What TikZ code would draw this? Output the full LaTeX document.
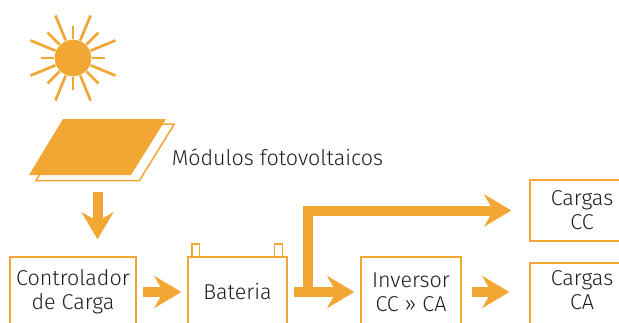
\documentclass[tikz,border=0pt]{standalone}
\usepackage{fontspec}
\setmainfont{Fira Sans Light}
\usetikzlibrary{arrows.meta,calc}
\definecolor{solaire}{HTML}{F2A633}
\definecolor{texte}{HTML}{1E1E1E}

\begin{document}
\begin{tikzpicture}[x=1pt, y=-1pt, line width=1.5pt,
  box/.style={draw=solaire, line width=1.5pt, text=texte, align=center,
    inner sep=0pt, font=\fontsize{21.5}{24}\selectfont},
  txt/.style={text=texte, align=center, inner sep=0pt,
    font=\fontsize{21.5}{24}\selectfont},
  bigarrow/.style={draw=solaire, line width=10pt,
    -{Stealth[length=27pt, width=32pt, inset=9pt]}},
  ray/.style={draw=solaire, line width=2.7pt}]
\useasboundingbox (0,0) rectangle (619,322);
\clip (0,0) rectangle (619,322);
% sun
\coordinate (S) at (73,58) ;
\fill[solaire] (S) circle (18.3) ;
\foreach \a in {0,90,180,270} \draw[ray] (S) ++(\a:19) -- ++(\a:13) ;
\foreach \a in {45,135,225,315} \draw[ray] (S) ++(\a:19) -- ++(\a:17) ;
\foreach \a in {22.5,67.5,...,337.5} \draw[ray] (S) ++(\a:19) -- ++(\a:27) ;
% panel
\draw[solaire, line width=1.5pt, fill=white] (36,180.7) -- (70,124) -- (174.3,124) -- (139.3,180.7) -- cycle ;
\fill[solaire] (29,175) -- (63,119) -- (166,119) -- (131,175) -- cycle ;
\coordinate (P) at (97.5,181) ;
\node[txt, anchor=west] (modules) at (171,157) {Módulos fotovoltaicos} ;
% boxes
\node[box, minimum width=126pt, minimum height=70pt] (ctrl) at (73,292) {Controlador\\de Carga} ;
\node[box, minimum width=99pt, minimum height=70pt] (bat) at (237.5,292) {Bateria} ;
\draw[solaire, line width=1.5pt] (192,257) rectangle (199.3,244) ;
\draw[solaire, line width=1.5pt] (274.3,257) rectangle (282.7,244) ;
\node[box, minimum width=100pt, minimum height=70pt] (inv) at (411,292) {Inversor\\CC » CA} ;
\node[box, minimum width=104pt, minimum height=61pt] (cc) at (582,210.5) {Cargas\\CC} ;
\node[box, minimum width=104pt, minimum height=70pt, anchor=north] (ca) at (582,262) {} ;
\node[txt] (catxt) at ($(ca.north)+(0,28)$) {Cargas\\CA} ;
% arrows
\draw[bigarrow, shorten <=11pt, shorten >=17pt] (P) -- (P |- ctrl.north) ;
\draw[bigarrow, shorten <=6pt, shorten >=6pt] (ctrl.east) -- (bat.west) ;
\draw[bigarrow, shorten <=6pt, shorten >=6pt] (bat.east) -- (inv.west) ;
\draw[bigarrow, shorten >=18pt] ($(bat.east)+(20.5,0)$) |- (cc.west) ;
\draw[bigarrow, shorten <=10pt, shorten >=20pt] (inv.east) -- (inv.east -| ca.west) ;
\end{tikzpicture}
\end{document}
